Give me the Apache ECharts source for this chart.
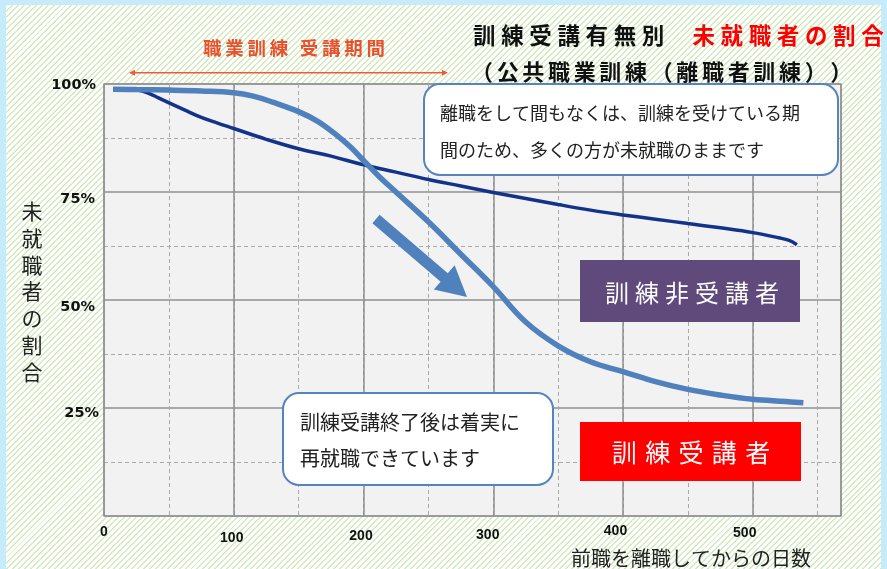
<!DOCTYPE html>
<html>
<head>
<meta charset="utf-8">
<script src="https://cdn.jsdelivr.net/npm/echarts@6/dist/echarts.min.js"></script>
<style>
  html, body { margin:0; padding:0; width:887px; height:569px; overflow:hidden; background:#c6ebfb; }
  #hatch { position:absolute; left:6px; top:5px; width:875px; height:564px;
    background: repeating-linear-gradient(-45deg, #d5ecc0 0px, #d5ecc0 1.4px, #ffffff 1.4px, #ffffff 4.2px); }
  #chart { position:absolute; left:0; top:0; width:887px; height:569px; }
</style>
</head>
<body>
<div id="hatch"></div>
<div id="chart"></div>
<script>
// ---- data ----
const nonTraineeDays = [7, 20, 28, 35, 42, 51, 62, 74, 87, 100, 125, 150, 175, 200, 225, 250, 275, 300, 325, 350, 375, 400, 425, 450, 475, 500, 520, 528, 534];
const nonTraineeRate = [98.8, 98.7, 98.5, 97.8, 96.8, 95.5, 94.0, 92.4, 91.0, 89.7, 87.2, 85.0, 83.3, 81.3, 79.6, 77.9, 76.4, 74.9, 73.5, 72.1, 70.8, 69.7, 68.7, 67.7, 66.7, 65.6, 64.4, 63.8, 62.8];
const traineeDays = [7, 25, 50, 75, 100, 115, 130, 150, 165, 180, 190, 200, 212, 225, 250, 275, 300, 325, 350, 375, 400, 425, 450, 475, 500, 525, 539];
const traineeRate = [98.8, 98.7, 98.6, 98.4, 98.0, 97.2, 95.8, 93.6, 91.3, 88.0, 85.4, 82.3, 78.6, 75.0, 68.1, 60.6, 53.1, 44.9, 39.4, 35.7, 33.4, 31.1, 29.3, 28.0, 27.0, 26.5, 26.2];
const yTicks = [25, 50, 75, 100];
const xTicks = [0, 100, 200, 300, 400, 500];
const seriesNames = ['訓練非受講者', '訓練受講者'];
const titleBlack = '訓練受講有無別';
const titleRed = '未就職者の割合';
const titleLine2 = '（公共職業訓練（離職者訓練））';
const periodLabel = '職業訓練 受講期間';
const yAxisTitle = '未就職者の割合';
const xAxisTitle = '前職を離職してからの日数';
const note1 = ['離職をして間もなくは、訓練を受けている期', '間のため、多くの方が未就職のままです'];
const note2 = ['訓練受講終了後は着実に', '再就職できています'];

// ---- helpers ----
const zip = (a, b) => a.map((v, i) => [v, b[i]]);
const spaced = (s, gap) => s.split('').join(gap);
const JP = "'Noto Sans CJK JP', 'Noto Sans', sans-serif";

function arrowPoints(S, T, w, hl, hw) {
  const dx = T[0] - S[0], dy = T[1] - S[1];
  const L = Math.hypot(dx, dy);
  const ux = dx / L, uy = dy / L, nx = -uy, ny = ux;
  const B = [T[0] - ux * hl, T[1] - uy * hl];
  return [
    [S[0] + nx * w / 2, S[1] + ny * w / 2],
    [B[0] + nx * w / 2, B[1] + ny * w / 2],
    [B[0] + nx * hw, B[1] + ny * hw],
    T,
    [B[0] - nx * hw, B[1] - ny * hw],
    [B[0] - nx * w / 2, B[1] - ny * w / 2],
    [S[0] - nx * w / 2, S[1] - ny * w / 2]
  ];
}

// label tweaks (style only)
const xLabFont = { fontFamily: "'Liberation Sans', Arial, sans-serif", fontWeight: 'bold', fontSize: 14, color: '#111' };
const xRich = {
  x0: Object.assign({ padding: [1, 0, 0, 0] }, xLabFont),
  x1: Object.assign({ padding: [7, 4, 0, 0] }, xLabFont),
  x2: Object.assign({ padding: [5, 5, 0, 0] }, xLabFont),
  x3: Object.assign({ padding: [4, 11, 0, 0] }, xLabFont),
  x4: Object.assign({ padding: [0, 15, 0, 0] }, xLabFont),
  x5: Object.assign({ padding: [2, 16, 0, 0] }, xLabFont)
};
const yLabFont = { fontFamily: "'DejaVu Sans', Verdana, sans-serif", fontWeight: 'bold', fontSize: 14.5, color: '#111' };
const yRich = {
  t: Object.assign({ padding: [3, 3, 0, 0] }, yLabFont),
  d: Object.assign({ padding: [14, 4, 0, 0] }, yLabFont),
  q: Object.assign({ padding: [11, 0, 0, 0] }, yLabFont)
};

const chart = echarts.init(document.getElementById('chart'), null, { renderer: 'canvas' });

const bigArrow = arrowPoints([376, 219], [467, 297], 11, 30, 16);

const option = {
  animation: false,
  backgroundColor: 'transparent',
  grid: { left: 104, top: 84, right: 46, bottom: 53, show: true, backgroundColor: '#f2f2f2', borderColor: '#a8a8a8', borderWidth: 1.5 },
  xAxis: [
    {
      type: 'value', min: 0, max: 568, interval: 50, position: 'bottom',
      axisLine: { show: false }, axisTick: { show: false }, axisLabel: { show: false },
      splitLine: { show: true, lineStyle: { color: '#a9a9a9', width: 1, type: [4, 3] } }
    },
    {
      type: 'value', min: 0, max: 568, interval: 100, position: 'bottom',
      axisLine: { show: false }, axisTick: { show: false },
      splitLine: { show: true, lineStyle: { color: '#8f8f8f', width: 1.5 } },
      axisLabel: {
        margin: 8, showMaxLabel: false,
        formatter: v => xTicks.indexOf(v) >= 0 ? `{x${v / 100}|${v}}` : '',
        rich: xRich
      }
    }
  ],
  yAxis: {
    type: 'value', min: 0, max: 100, interval: 25,
    axisLine: { show: false }, axisTick: { show: false },
    splitLine: { show: true, lineStyle: { color: '#8f8f8f', width: 1.5 } },
    minorTick: { show: false, splitNumber: 2 },
    minorSplitLine: { show: true, lineStyle: { color: '#a9a9a9', width: 1, type: [4, 3] } },
    axisLabel: {
      margin: 5,
      formatter: v => yTicks.indexOf(v) < 0 ? '' : (v === 100 ? `{t|${v}%}` : v === 25 ? `{q|${v}%}` : `{d|${v}%}`),
      rich: yRich
    }
  },
  series: [
    {
      name: seriesNames[0], type: 'line', xAxisIndex: 1, data: zip(nonTraineeDays, nonTraineeRate),
      showSymbol: false, smooth: 0.4,
      lineStyle: { color: '#13338b', width: 3.5 }, z: 3
    },
    {
      name: seriesNames[1], type: 'line', xAxisIndex: 1, data: zip(traineeDays, traineeRate),
      showSymbol: false, smooth: 0.4,
      lineStyle: { color: '#4f81bd', width: 5.5 }, z: 4
    }
  ],
  graphic: [
    // title
    {
      type: 'text', x: 473, y: 35, z: 100,
      style: {
        text: `{k|${spaced(titleBlack, '\u2005')}}{k|\u2005\u3000}{r|${spaced(titleRed, '\u2005')}}`,
        verticalAlign: 'middle',
        rich: {
          k: { fontFamily: JP, fontSize: 22.5, fontWeight: 'bold', fill: '#111' },
          r: { fontFamily: JP, fontSize: 22.5, fontWeight: 'bold', fill: '#ff0000' }
        }
      }
    },
    {
      type: 'text', x: 471, y: 72, z: 100,
      style: { text: spaced(titleLine2, '\u2006'), font: `bold 22px ${JP}`, fill: '#111', verticalAlign: 'middle' }
    },
    // training period
    {
      type: 'text', x: 294, y: 48, z: 100,
      style: { text: spaced(periodLabel, '\u2009'), font: `bold 18.5px ${JP}`, fill: '#e9502c', align: 'center', verticalAlign: 'middle' }
    },
    { type: 'line', z: 100, shape: { x1: 133, y1: 72.7, x2: 444, y2: 72.7 }, style: { stroke: '#ee5a3a', lineWidth: 1.6 } },
    { type: 'polygon', z: 100, shape: { points: [[129, 72.7], [135, 69.7], [135, 75.7]] }, style: { fill: '#ee5a3a' } },
    { type: 'polygon', z: 100, shape: { points: [[448, 72.7], [442, 69.7], [442, 75.7]] }, style: { fill: '#ee5a3a' } },
    // axis titles
    {
      type: 'text', x: 32, y: 198, z: 100,
      style: { text: yAxisTitle.split('').join('\n'), font: `21px ${JP}`, lineHeight: 26.7, fill: '#222', align: 'center', verticalAlign: 'top' }
    },
    {
      type: 'text', x: 571, y: 558, z: 100,
      style: { text: xAxisTitle, font: `20px ${JP}`, fill: '#222', verticalAlign: 'middle' }
    },
    // callout 1
    { type: 'rect', z: 100, shape: { x: 424, y: 84, width: 414, height: 91, r: 16 }, style: { fill: '#ffffff', stroke: '#5584c0', lineWidth: 2 } },
    {
      type: 'text', x: 440, y: 95, z: 101,
      style: { text: note1.join('\n'), font: `18px ${JP}`, lineHeight: 37, fill: '#222', verticalAlign: 'top' }
    },
    // callout 2
    { type: 'rect', z: 100, shape: { x: 283, y: 393, width: 270, height: 92, r: 16 }, style: { fill: '#ffffff', stroke: '#5584c0', lineWidth: 2 } },
    {
      type: 'text', x: 300, y: 404.5, z: 101,
      style: { text: note2.join('\n'), font: `20px ${JP}`, lineHeight: 36, fill: '#222', verticalAlign: 'top' }
    },
    // legend-like boxes
    { type: 'rect', z: 100, shape: { x: 580, y: 260, width: 220, height: 62 }, style: { fill: '#604a7b' } },
    {
      type: 'text', x: 692, y: 293, z: 101,
      style: { text: spaced(seriesNames[0], '\u2005'), font: `24px ${JP}`, fill: '#ffffff', align: 'center', verticalAlign: 'middle' }
    },
    { type: 'rect', z: 100, shape: { x: 580, y: 422, width: 221, height: 59 }, style: { fill: '#ff0000' } },
    {
      type: 'text', x: 691, y: 452, z: 101,
      style: { text: spaced(seriesNames[1], '\u2004'), font: `25px ${JP}`, fill: '#ffffff', align: 'center', verticalAlign: 'middle' }
    },
    // big arrow
    { type: 'polygon', z: 100, shape: { points: bigArrow }, style: { fill: '#4f81bd' } }
  ]
};
chart.setOption(option);
</script>
</body>
</html>
